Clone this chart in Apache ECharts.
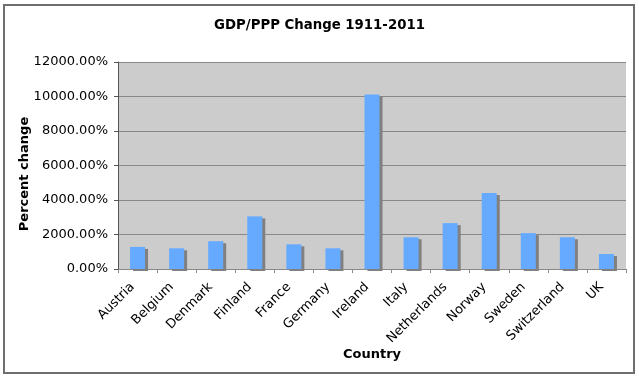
<!DOCTYPE html>
<html>
<head>
<meta charset="utf-8">
<script src="https://cdn.jsdelivr.net/npm/echarts@6/dist/echarts.min.js"></script>
<style>
html,body{margin:0;padding:0;background:#fff;}
#chart{width:639px;height:378px;}
</style>
</head>
<body>
<div id="chart"></div>
<script>
var countries = ["Austria","Belgium","Denmark","Finland","France","Germany","Ireland","Italy","Netherlands","Norway","Sweden","Switzerland","UK"];
var percentChange = [1280,1200,1610,3050,1430,1200,10110,1840,2660,4400,2080,1840,870];
var yTicks = [0,2000,4000,6000,8000,10000,12000];

var FONT = '"DejaVu Sans", Verdana, sans-serif';
var chart = echarts.init(document.getElementById('chart'), null, {renderer:'canvas'});
chart.setOption({
  animation:false,
  backgroundColor:'#ffffff',
  title:{
    text:'GDP/PPP Change 1911-2011',
    left:'center', top:14,
    textStyle:{fontFamily:FONT, fontSize:13.3, fontWeight:'bold', color:'#000'}
  },
  graphic:[
    {type:'rect', shape:{x:4,y:5,width:630,height:368}, style:{fill:null, stroke:'#6e6e6e', lineWidth:2}, silent:true, z:-1},
    {type:'text', rotation:Math.PI/2, style:{text:'Percent change', font:'bold 13px '+FONT, fill:'#000', textAlign:'center', textVerticalAlign:'middle'}, x:25, y:174},
    {type:'text', style:{text:'Country', font:'bold 13px '+FONT, fill:'#000', textAlign:'center', textVerticalAlign:'middle', x:0, y:0}, x:372, y:355}
  ],
  grid:{left:118, top:62, right:13, bottom:109, show:true, backgroundColor:'#cccccc', borderWidth:0},
  xAxis:{
    type:'category', data:countries,
    axisLine:{lineStyle:{color:'#888888', width:1}},
    axisTick:{show:true, length:4, lineStyle:{color:'#888888'}},
    axisLabel:{rotate:45, margin:11, interval:0, padding:[0,7,0,0], fontFamily:FONT, fontSize:13, color:'#000'}
  },
  yAxis:{
    type:'value', min:0, max:12000, interval:2000,
    axisLine:{show:true, lineStyle:{color:'#555555'}},
    axisTick:{show:true, length:4, lineStyle:{color:'#555555'}},
    splitLine:{lineStyle:{color:'#888888', width:1}},
    axisLabel:{margin:10, fontFamily:FONT, fontSize:13, color:'#000',
      formatter:function(v){return v.toFixed(2)+'%';}}
  },
  series:[{
    type:'bar', data:percentChange, barWidth:15,
    itemStyle:{color:'#66aaff', shadowColor:'#808080', shadowOffsetX:3, shadowOffsetY:2, shadowBlur:0}
  }]
});
</script>
</body>
</html>
